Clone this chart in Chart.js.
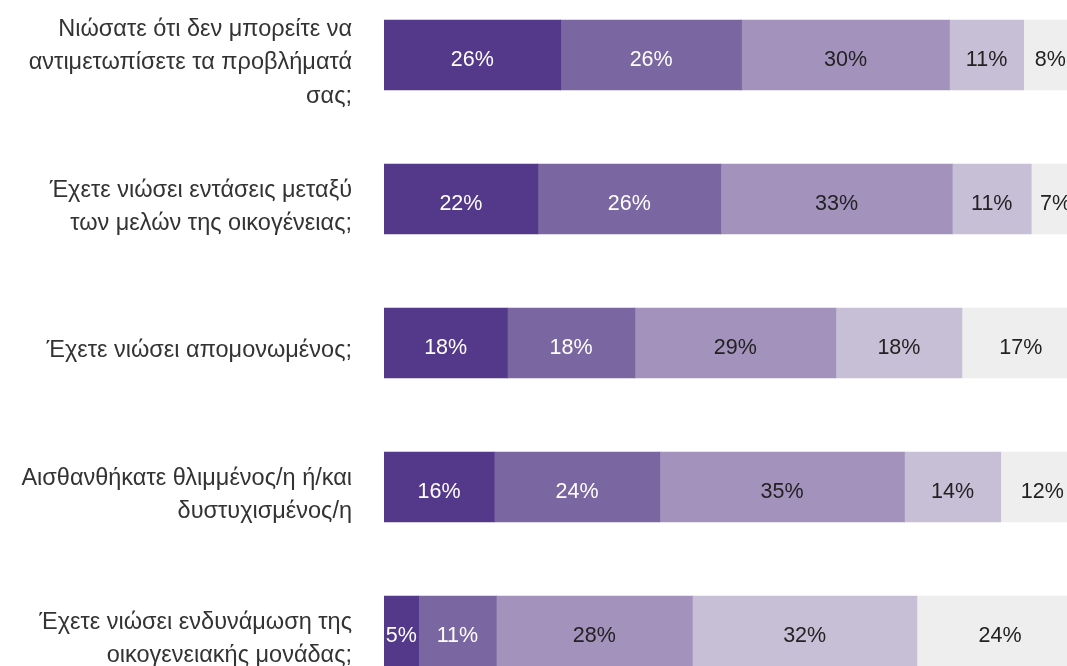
<!DOCTYPE html>
<html>
<head>
<meta charset="utf-8">
<script src="https://cdn.jsdelivr.net/npm/chart.js@4/dist/chart.umd.min.js"></script>
<style>
  html, body { margin: 0; padding: 0; overflow: hidden; background: #fff; width: 1067px; height: 666px; }
  #chart { position: absolute; left: 0; top: -17px; }
</style>
</head>
<body>
<canvas id="chart" width="1077" height="720"></canvas>
<script>
// Ερωτήσεις (κατηγορίες)
const categories = [
    ["Νιώσατε ότι δεν μπορείτε να", "αντιμετωπίσετε τα προβλήματά", "σας;"],
    ["Έχετε νιώσει εντάσεις μεταξύ", "των μελών της οικογένειας;"],
    ["Έχετε νιώσει απομονωμένος;"],
    ["Αισθανθήκατε θλιμμένος/η ή/και", "δυστυχισμένος/η"],
    ["Έχετε νιώσει ενδυνάμωση της", "οικογενειακής μονάδας;"]
];

// Τιμές ανά απάντηση (%), εκτίμηση από την εικόνα
const answer1 = [25.5, 22.2, 17.8, 15.9, 5.0];
const answer2 = [26.1, 26.4, 18.4, 23.9, 11.2];
const answer3 = [30.0, 33.4, 29.0, 35.3, 28.3];
const answer4 = [10.7, 11.4, 18.2, 13.9, 32.4];
const answer5 = [7.7, 7.0, 17.0, 12.0, 24.0];

const seriesNames = ["1", "2", "3", "4", "5"];
const colors = ['#54388a', '#7a66a1', '#a292bc', '#c7bfd6', '#eeeeee'];
const labelColors = ['#ffffff', '#ffffff', '#222222', '#222222', '#222222'];

// ετικέτες μέσα στις μπάρες
const barLabels = {
    id: 'barLabels',
    afterDatasetsDraw(chart) {
        const ctx = chart.ctx;
        ctx.save();
        ctx.font = '21.5px "Liberation Sans", Arial, sans-serif';
        ctx.textAlign = 'center';
        ctx.textBaseline = 'middle';
        chart.data.datasets.forEach((ds, i) => {
            chart.getDatasetMeta(i).data.forEach((bar, j) => {
                ctx.fillStyle = labelColors[i];
                ctx.fillText(Math.round(ds.data[j]) + '%', (bar.x + bar.base) / 2, bar.y + 5);
            });
        });
        ctx.restore();
    }
};

const allSeries = [answer1, answer2, answer3, answer4, answer5];

new Chart(document.getElementById('chart'), {
    type: 'bar',
    data: {
        labels: categories,
        datasets: allSeries.map((d, i) => ({
            label: seriesNames[i],
            data: d,
            backgroundColor: colors[i],
            borderWidth: 0,
            barThickness: 70
        }))
    },
    options: {
        indexAxis: 'y',
        responsive: false,
        animation: false,
        layout: { padding: 0 },
        plugins: {
            legend: { display: false },
            tooltip: { enabled: false }
        },
        scales: {
            x: {
                stacked: true,
                min: 0,
                max: 100,
                display: false
            },
            y: {
                stacked: true,
                grid: { display: false, drawTicks: false },
                border: { display: false },
                ticks: {
                    color: '#333333',
                    padding: 32,
                    labelOffset: 8,
                    font: { family: '"Liberation Sans", Arial, sans-serif', size: 23.5, lineHeight: 1.43 }
                },
                afterFit(axis) {
                    axis.width = 384;
                    axis.paddingTop = 0;
                    axis.paddingBottom = 0;
                }
            }
        }
    },
    plugins: [barLabels]
});
</script>
</body>
</html>
